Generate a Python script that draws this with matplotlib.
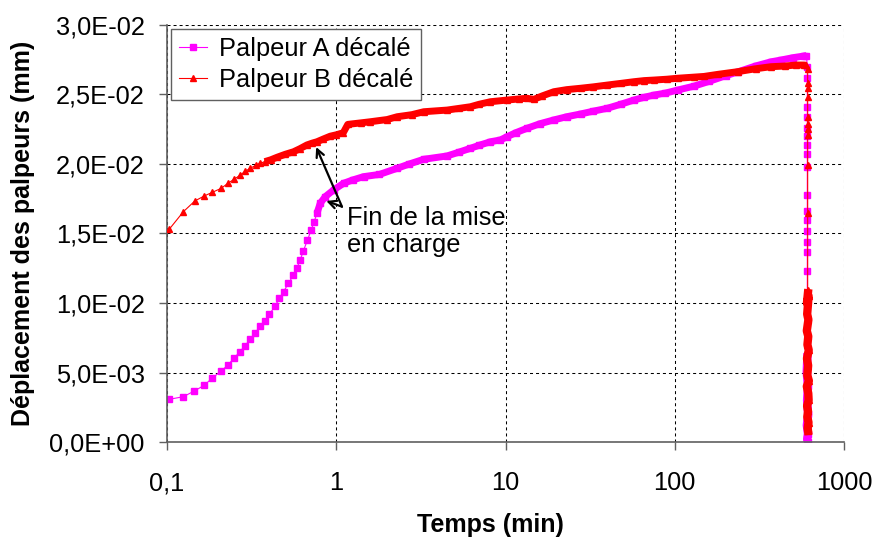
import numpy as np
import matplotlib
matplotlib.use('Agg')
import matplotlib.pyplot as plt
from matplotlib.ticker import FixedLocator, FuncFormatter, NullLocator

plt.rcParams['font.family'] = ['Liberation Sans', 'DejaVu Sans']

# Palpeur A décalé : mise en charge puis fluage (temps en min, déplacement en mm)
temps_a = [0.103, 0.125, 0.145, 0.166, 0.185, 0.209, 0.229, 0.249, 0.27, 0.289,
           0.31, 0.332, 0.355, 0.377, 0.403, 0.435, 0.462, 0.488, 0.522, 0.559,
           0.585, 0.612, 0.64, 0.676, 0.711, 0.741, 0.769, 0.804, 0.861, 0.964,
           1.104, 1.25, 1.45, 1.8, 2.29, 2.7, 3.29, 4.52, 5.3, 6.21,
           7.0, 8.15, 9.33, 10.2, 11.5, 13.4, 16.0, 19.3, 23.0, 27.8,
           33.0, 40.0, 48.0, 57.4, 66.0, 75.5, 88.0, 104, 130, 160,
           200, 235, 300, 370, 424, 500, 580, 600]
depl_a = [0.00307, 0.00326, 0.00367, 0.00408, 0.0046, 0.0051, 0.00554, 0.00604, 0.0065, 0.00693,
          0.00739, 0.00786, 0.00835, 0.0087, 0.00919, 0.00978, 0.01034, 0.01081, 0.01142, 0.012,
          0.0125, 0.01309, 0.01376, 0.01453, 0.01525, 0.01585, 0.01645, 0.01717, 0.01765, 0.01813,
          0.01861, 0.01885, 0.01909, 0.01925, 0.01969, 0.02, 0.02034, 0.02058, 0.02085, 0.02113,
          0.02135, 0.0216, 0.02173, 0.02196, 0.02225, 0.02257, 0.0229, 0.02317, 0.0234, 0.0236,
          0.0238, 0.02401, 0.0243, 0.0246, 0.0248, 0.02496, 0.0251, 0.02532, 0.0256, 0.02595,
          0.02635, 0.02662, 0.02705, 0.02735, 0.02748, 0.02765, 0.02777, 0.0278]
# déchargement
chute_temps_a = [607, 607, 607, 607, 607, 607, 607, 607, 607, 607, 607, 607, 607, 607, 607, 607]
chute_a = [0.027, 0.0262, 0.0241, 0.0234, 0.0226, 0.022, 0.0214, 0.0207, 0.0198, 0.0178,
           0.0166, 0.016, 0.0152, 0.0144, 0.0137, 0.0123]
retour_temps_a = [607, 602, 612, 605, 614, 603, 612, 606, 610]
retour_a = [0.0061, 0.005, 0.004, 0.003, 0.002, 0.0012, 0.0006, 0.0002, 0.0]

# Palpeur B décalé
temps_b = [0.103, 0.125, 0.146, 0.166, 0.185, 0.209, 0.229, 0.249, 0.27, 0.29,
           0.31, 0.335, 0.355, 0.378, 0.41, 0.446, 0.5, 0.559, 0.61, 0.671,
           0.72, 0.769, 0.84, 0.921, 1.0, 1.10, 1.17, 1.4, 1.59, 2.0,
           2.29, 2.8, 3.29, 4.52, 5.3, 6.21, 7.0, 8.15, 10.2, 12.0,
           13.4, 14.7, 16.5, 19.3, 23, 27.8, 33, 40, 48, 57.4,
           66, 75.5, 90, 104, 130, 149, 180, 235, 300, 370,
           450, 520, 580, 600]
depl_b = [0.0153, 0.01657, 0.01734, 0.0177, 0.01796, 0.01825, 0.01861, 0.0189, 0.01919, 0.01948,
          0.01969, 0.01991, 0.02005, 0.02017, 0.0203, 0.02048, 0.0207, 0.02088, 0.0211, 0.02137,
          0.0215, 0.0216, 0.0218, 0.022, 0.0221, 0.02225, 0.02285, 0.02296, 0.02304, 0.0232,
          0.0234, 0.02355, 0.02376, 0.02388, 0.024, 0.02412, 0.0243, 0.02448, 0.0246, 0.02468,
          0.02473, 0.02465, 0.0249, 0.0252, 0.02535, 0.02545, 0.02555, 0.02568, 0.0258, 0.02592,
          0.026, 0.02604, 0.0261, 0.02617, 0.02625, 0.0263, 0.02645, 0.02664, 0.02685, 0.027,
          0.02705, 0.02712, 0.02712, 0.0271]
chute_temps_b = [610, 610, 610, 610, 610, 610, 610, 610, 610, 610, 610]
chute_b = [0.0268, 0.0258, 0.0255, 0.0248, 0.0234, 0.0229, 0.0225, 0.0221, 0.0199, 0.0165, 0.0109]
retour_temps_b = [612, 604, 618, 606, 616, 603, 615, 608, 619, 604, 614,
                  607, 620, 603, 615, 618, 605, 613, 607, 617, 610, 613]
retour_b = [0.0107, 0.01, 0.0105, 0.0092, 0.0088, 0.008, 0.0076, 0.007, 0.0066, 0.006, 0.0055,
            0.0048, 0.0044, 0.004, 0.0035, 0.003, 0.0026, 0.0022, 0.0018, 0.0014, 0.001, 0.0008]

x_ticks = [0.1, 1, 10, 100, 1000]
x_labels = ['0,1', '1', '10', '100', '1000']
y_ticks = [0.0, 0.005, 0.01, 0.015, 0.02, 0.025, 0.03]

MAGENTA = '#FF00FF'
ROUGE = '#FF0000'
TAILLE = 18.3

fig = plt.figure(figsize=(8.72, 5.38), dpi=100)
ax = fig.add_axes([167 / 872, 1 - 442 / 538, 677 / 872, 417 / 538])
ax.set_xscale('log')

# parties denses (points superposés) -> trait épais dessous
ta, ya = np.array(temps_a), np.array(depl_a)
tb, yb = np.array(temps_b), np.array(depl_b)
dense_a = ta >= 0.76
dense_b = tb >= 0.37
ax.plot(ta[dense_a], ya[dense_a], color=MAGENTA, lw=5, solid_capstyle='butt', zorder=2)
ax.plot(retour_temps_a, retour_a, color=MAGENTA, lw=6, zorder=2)
ax.plot(tb[dense_b], yb[dense_b], color=ROUGE, lw=5, solid_capstyle='butt', zorder=3)
ax.plot(retour_temps_b, retour_b, color=ROUGE, lw=6, zorder=3)

ax.plot(temps_a + chute_temps_a + retour_temps_a, depl_a + chute_a + retour_a,
        color=MAGENTA, lw=0.8, marker='s', ms=4.2, mec=MAGENTA, mfc=MAGENTA,
        label='Palpeur A décalé', zorder=2.5)
ax.plot(temps_b + chute_temps_b + retour_temps_b, depl_b + chute_b + retour_b,
        color=ROUGE, lw=0.8, marker='^', ms=5, mec=ROUGE, mfc=ROUGE,
        label='Palpeur B décalé', zorder=3.5)

ax.set_xlim(0.1, 1000)
ax.set_ylim(0, 0.03)
ax.xaxis.set_major_locator(FixedLocator(x_ticks))
ax.xaxis.set_minor_locator(NullLocator())
ax.set_xticklabels(x_labels)
ax.yaxis.set_major_locator(FixedLocator(y_ticks))
ax.yaxis.set_major_formatter(FuncFormatter(lambda v, p: f'{v:.1E}'.replace('.', ',')))

ax.grid(True, which='major', color='black', lw=0.75, ls=(0, (2.9, 2.9)))
for s in ['top', 'right']:
    ax.spines[s].set_visible(False)
for s in ['left', 'bottom']:
    ax.spines[s].set_color('#606060')
    ax.spines[s].set_linewidth(1.2)
ax.tick_params(axis='both', direction='out', length=6, width=1, color='#606060',
               labelsize=TAILLE, pad=10)
ax.tick_params(axis='x', pad=15)

ax.set_xlabel('Temps (min)', fontsize=18, fontweight='bold')
ax.set_ylabel('Déplacement des palpeurs (mm)', fontsize=18, fontweight='bold')
ax.xaxis.set_label_coords((490 - 167) / 677, (442 - 513) / 417)
ax.yaxis.set_label_coords((35 - 167) / 677, 0.5)

# fin de la mise en charge
pied = (1.081, 0.01693)
fleche = dict(arrowstyle='->', color='black', lw=1.6, shrinkA=0, shrinkB=0, mutation_scale=14)
ax.annotate('', xy=(0.761, 0.02122), xytext=pied, arrowprops=fleche, zorder=5)
ax.annotate('', xy=(0.873, 0.01734), xytext=pied, arrowprops=fleche, zorder=5)
ax.text(1.161, 0.0170, 'Fin de la mise\nen charge', ha='left', va='top', fontsize=TAILLE,
        linespacing=1.2, zorder=5)

leg = ax.legend(loc='upper left', bbox_to_anchor=(171 / 872, 1 - 29 / 538),
                bbox_transform=fig.transFigure, fontsize=TAILLE, frameon=True, fancybox=False,
                borderaxespad=0, handlelength=1.1, handletextpad=0.5, labelspacing=0.3,
                borderpad=0.3, framealpha=1)
leg.get_frame().set_edgecolor('#606060')
leg.get_frame().set_linewidth(1)

fig.savefig('out.png', dpi=100)
